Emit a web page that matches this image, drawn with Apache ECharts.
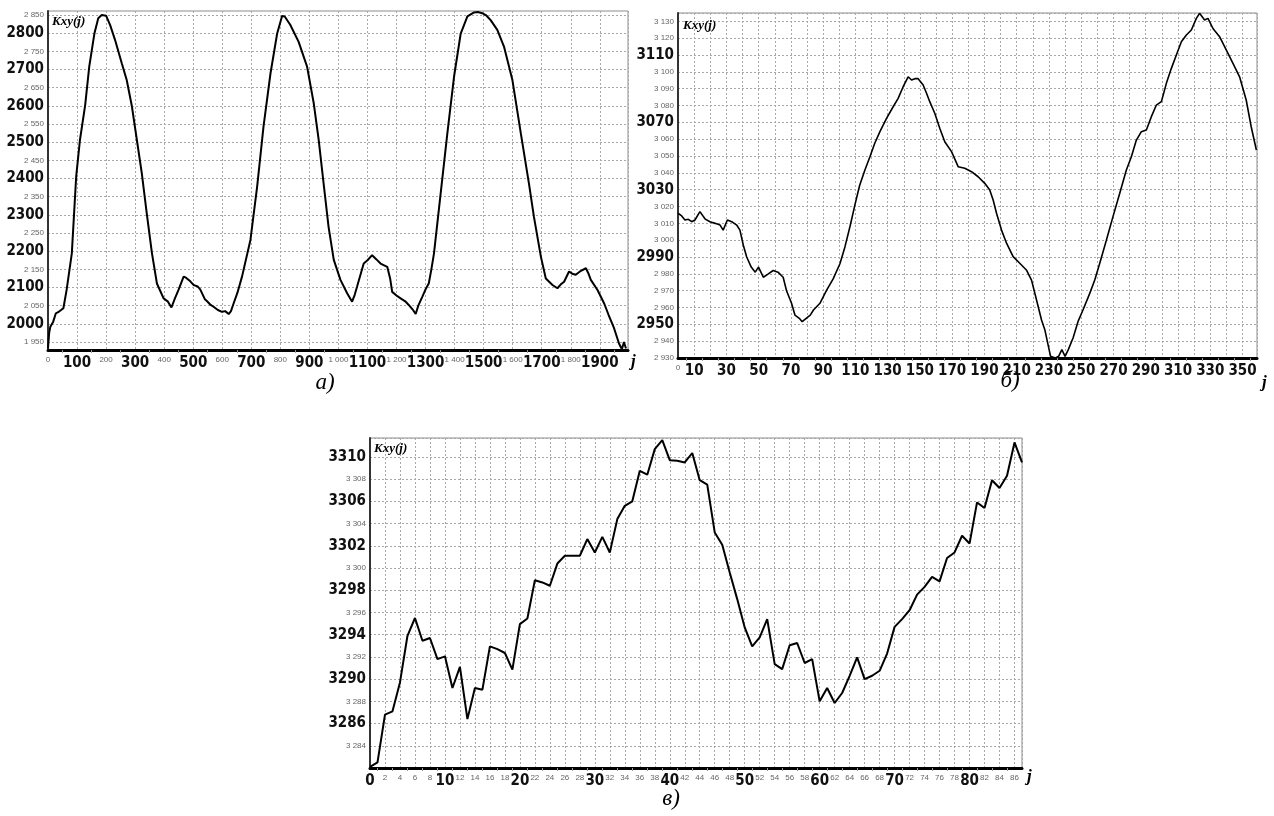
<!DOCTYPE html>
<html>
<head>
<meta charset="utf-8" />
<title>Kxy(j)</title>
<script type="text/javascript" src="https://cdn.jsdelivr.net/npm/echarts@6/dist/echarts.min.js"></script>
<style>
  html, body { margin: 0; padding: 0; background: #fff; }
  #chart { width: 1274px; height: 816px; }
</style>
</head>
<body>
<div id="chart"></div>
<script type="text/javascript">
// panel a) : j, Kxy(j)
var aJ = [0, 4, 8, 18, 27, 35, 45, 53, 64, 82, 97, 110, 128, 142, 160, 173, 185, 191, 200, 214, 231, 254, 271, 289, 306, 323, 340, 358, 375, 398, 412, 425, 437, 449, 467, 475, 490, 501, 515, 524, 540, 547, 560, 570, 585, 599, 610, 622, 630, 639, 652, 668, 697, 720, 742, 766, 789, 806, 815, 834, 863, 892, 915, 932, 949, 966, 984, 1007, 1030, 1047, 1056, 1064, 1087, 1100, 1116, 1130, 1145, 1168, 1178, 1185, 1200, 1214, 1230, 1242, 1255, 1266, 1275, 1289, 1300, 1311, 1320, 1329, 1352, 1375, 1398, 1421, 1444, 1467, 1480, 1495, 1510, 1524, 1547, 1570, 1599, 1628, 1656, 1673, 1697, 1714, 1737, 1754, 1765, 1777, 1794, 1805, 1817, 1835, 1852, 1860, 1869, 1892, 1915, 1930, 1949, 1966, 1976, 1983, 1990];
var aK = [1932, 1975, 1992, 2006, 2029, 2032, 2038, 2043, 2093, 2194, 2405, 2506, 2602, 2708, 2800, 2841, 2850, 2852, 2848, 2822, 2781, 2717, 2671, 2598, 2506, 2414, 2304, 2194, 2111, 2070, 2062, 2045, 2070, 2093, 2130, 2127, 2117, 2107, 2103, 2095, 2068, 2063, 2052, 2047, 2038, 2033, 2035, 2027, 2035, 2056, 2085, 2130, 2231, 2377, 2543, 2689, 2799, 2847, 2846, 2823, 2776, 2708, 2607, 2506, 2386, 2267, 2176, 2121, 2084, 2061, 2080, 2102, 2166, 2175, 2189, 2178, 2166, 2157, 2125, 2088, 2078, 2070, 2062, 2052, 2040, 2027, 2050, 2075, 2095, 2111, 2150, 2194, 2359, 2524, 2680, 2799, 2846, 2857, 2858, 2855, 2848, 2836, 2809, 2763, 2671, 2524, 2386, 2295, 2185, 2125, 2107, 2098, 2108, 2116, 2144, 2138, 2135, 2146, 2153, 2140, 2121, 2093, 2056, 2025, 1988, 1946, 1930, 1950, 1932];

// panel б) : j, Kxy(j)
var bJ = [0, 2.3, 4.3, 6.4, 8.5, 10.5, 13.6, 16.7, 19.8, 23, 26.1, 28, 30.6, 33.3, 36.4, 38.4, 40.5, 42.6, 45.4, 47.9, 49.9, 52.9, 56, 59, 62, 65.2, 67.3, 70.4, 72.5, 75.2, 77, 79.5, 82, 84, 88, 92, 96.2, 100.4, 103.5, 106.6, 109.7, 112.6, 115.9, 119, 122, 125.2, 129.3, 133.4, 136.5, 139.6, 142.7, 144.8, 146.9, 148.9, 152, 154.1, 156.1, 159.2, 162.3, 165.4, 169.6, 173.7, 177.8, 182, 186.1, 190.2, 193.3, 195.4, 197.5, 200.6, 203.7, 207.8, 211.9, 216, 219.2, 222.3, 225.4, 227.5, 231, 234, 236, 238, 240, 242, 245, 248, 251.1, 255.3, 258.4, 261.5, 265.6, 269.7, 273.9, 278, 281.1, 284.2, 287.3, 290.4, 293.5, 296.6, 299.7, 302.8, 305.9, 309, 312.1, 315.2, 318.3, 321.4, 323.4, 326.5, 328.6, 331.7, 335.8, 340, 344.1, 348.2, 352.3, 355.4, 358.6];
var bK = [3016, 3014.4, 3012, 3012.4, 3011, 3012, 3017, 3012.7, 3011, 3010, 3009, 3006, 3012, 3011, 3009, 3006, 2997, 2990, 2984, 2981, 2984, 2978, 2980, 2982, 2981, 2978, 2970, 2962.5, 2955.5, 2953.6, 2951.6, 2953.6, 2955.5, 2958.5, 2962.5, 2970, 2977, 2986, 2996, 3008, 3021, 3032.5, 3041.7, 3049.6, 3057.6, 3064.5, 3072.4, 3079.3, 3084.3, 3091.2, 3097.1, 3095.2, 3096, 3096, 3092.2, 3087.3, 3082.3, 3075.4, 3066.5, 3058.5, 3052.6, 3043.7, 3042.7, 3040.7, 3037.7, 3033.8, 3029.8, 3023.9, 3016, 3006, 2998.2, 2990.2, 2986.3, 2982.3, 2976.3, 2964.5, 2952.6, 2946.6, 2931, 2930, 2931, 2935, 2931, 2935, 2942, 2951.6, 2958.5, 2968.4, 2976.3, 2986.3, 3000, 3014, 3027.9, 3041.7, 3049.6, 3059.5, 3064.5, 3065.5, 3073.4, 3080.3, 3082.3, 3093.2, 3102.1, 3110, 3117.9, 3121.9, 3124.9, 3131.8, 3134.8, 3130.8, 3131.8, 3125.8, 3120.9, 3113, 3105.1, 3097.1, 3083.3, 3067.4, 3053.6];

// panel в) : Kxy(j) for j = 0..87
var cK = [3282.1, 3282.5, 3286.8, 3287.1, 3289.7, 3293.9, 3295.5, 3293.45, 3293.7, 3291.8,
          3292.05, 3289.2, 3291.1, 3286.4, 3289.2, 3289.05, 3292.95, 3292.7, 3292.35, 3290.85,
          3294.95, 3295.45, 3298.9, 3298.7, 3298.4, 3300.4, 3301.1, 3301.1, 3301.1, 3302.6,
          3301.4, 3302.8, 3301.4, 3304.4, 3305.6, 3306.0, 3308.75, 3308.4, 3310.7, 3311.5,
          3309.7, 3309.65, 3309.5, 3310.35, 3307.9, 3307.5, 3303.2, 3302.1, 3299.6, 3297.2,
          3294.65, 3292.95, 3293.75, 3295.4, 3291.35, 3290.9, 3293.05, 3293.25, 3291.45, 3291.8,
          3288.0, 3289.2, 3287.85, 3288.75, 3290.3, 3291.95, 3290.0, 3290.3, 3290.75, 3292.3,
          3294.7, 3295.4, 3296.2, 3297.6, 3298.3, 3299.2, 3298.8, 3300.9, 3301.4, 3302.9,
          3302.2, 3305.9, 3305.4, 3307.9, 3307.2, 3308.3, 3311.3, 3309.5];

var aYTicks = [1950, 2000, 2050, 2100, 2150, 2200, 2250, 2300, 2350, 2400, 2450, 2500, 2550, 2600, 2650, 2700, 2750, 2800, 2850];

function pair(xs, ys) {
    var out = [];
    for (var i = 0; i < xs.length; i++) out.push([xs[i], ys[i]]);
    return out;
}
function spaced(v) {
    // small labels are printed as "2 850"
    if (v >= 1000) return Math.floor(v / 1000) + ' ' + String(v % 1000).padStart(3, '0');
    return String(v);
}

var bigFont = 'Liberation Sans Narrow, DejaVu Sans Condensed, Arial Narrow, sans-serif';
var rich = {
    b: { fontFamily: bigFont, fontWeight: 'bold', fontSize: 15, color: '#111' },
    s: { fontFamily: 'Liberation Sans, Arial, sans-serif', fontSize: 8, color: '#666' }
};
var gridLine = { show: true, lineStyle: { color: '#a8a8a8', width: 1, type: [2, 2] } };

function xAxisBase(idx, extra) {
    var o = {
        type: 'value', gridIndex: idx,
        axisLine: { show: true, onZero: false, lineStyle: { color: '#000', width: 3 } },
        axisTick: { show: false },
        minorTick: { show: true, splitNumber: 2, length: 3, lineStyle: { color: '#999' } },
        splitLine: gridLine,
        axisLabel: { margin: 6, showMinLabel: true, showMaxLabel: true, rich: rich }
    };
    for (var k in extra) o[k] = extra[k];
    return o;
}
function yAxisBase(idx, extra) {
    var o = {
        type: 'value', gridIndex: idx,
        axisLine: { show: true, onZero: false, lineStyle: { color: '#333', width: 2 } },
        axisTick: { show: false },
        splitLine: gridLine,
        axisLabel: { margin: 4, showMinLabel: true, showMaxLabel: true, rich: rich }
    };
    for (var k in extra) o[k] = extra[k];
    return o;
}

var myChart = echarts.init(document.getElementById('chart'), null, { renderer: 'canvas' });

var gridCommon = { show: true, borderColor: '#8c8c8c', borderWidth: 1, backgroundColor: '#fff', containLabel: false, outerBoundsMode: 'none' };
function gridAt(l, t, w, h) {
    var g = { left: l, top: t, width: w, height: h };
    for (var k in gridCommon) g[k] = gridCommon[k];
    return g;
}

var labelText = function (x, y, text, style) {
    var s = { text: text, x: x, y: y, fill: '#000', textAlign: 'left', textVerticalAlign: 'middle' };
    for (var k in style) s[k] = style[k];
    return { type: 'text', z: 100, style: s };
};
var kxyStyle = { font: 'italic bold 13px "Liberation Serif", "Times New Roman", serif' };
var jStyle = { font: 'italic bold 17px "Liberation Serif", "Times New Roman", serif' };
var capStyle = { font: 'italic 23px "Liberation Serif", "Times New Roman", serif', textAlign: 'center' };

myChart.setOption({
    animation: false,
    backgroundColor: '#fff',
    grid: [
        gridAt(48, 11, 580, 339),
        gridAt(678, 13, 579, 345),
        gridAt(370, 438, 652, 330)
    ],
    xAxis: [
        xAxisBase(0, {
            min: 0, max: 1997, interval: 100,
            axisLabel: { margin: 6, rich: rich, formatter: function (v) {
                if (v % 200 === 100) return '{b|' + v + '}';
                if (v % 200 === 0) return '{s|' + spaced(v) + '}';
                return '';
            } }
        }),
        xAxisBase(1, {
            min: 0, max: 359, interval: 10,
            axisLabel: { margin: 6, rich: rich, formatter: function (v) {
                if (v === 0) return '{s|0}';
                if (v % 20 === 10) return '{b|' + v + '}';
                return '';
            } }
        }),
        xAxisBase(2, {
            min: 0, max: 87, interval: 2,
            axisLabel: { margin: 6, rich: rich, formatter: function (v) {
                if (v % 10 === 0) return '{b|' + v + '}';
                if (v % 2 === 0) return '{s|' + v + '}';
                return '';
            } }
        })
    ],
    yAxis: [
        yAxisBase(0, {
            min: 1928, max: 2861,
            axisTick: { show: false, customValues: aYTicks },
            axisLabel: { margin: 4, rich: rich, customValues: aYTicks, formatter: function (v) {
                if (v % 100 === 0) return '{b|' + v + '}';
                return '{s|' + spaced(v) + '}';
            } }
        }),
        yAxisBase(1, {
            min: 2930, max: 3135, interval: 10,
            axisLabel: { margin: 4, rich: rich, formatter: function (v) {
                if (v % 10 !== 0) return '';
                if ((v - 2950) % 40 === 0) return '{b|' + v + '}';
                return '{s|' + spaced(v) + '}';
            } }
        }),
        yAxisBase(2, {
            min: 3282, max: 3311.7, interval: 2,
            axisLabel: { margin: 4, rich: rich, formatter: function (v) {
                if (v === 3282 || v % 2 !== 0) return '';
                if ((v - 3282) % 4 === 0) return '{b|' + v + '}';
                return '{s|' + spaced(v) + '}';
            } }
        })
    ],
    series: [
        { type: 'line', xAxisIndex: 0, yAxisIndex: 0, data: pair(aJ, aK), showSymbol: false, clip: true,
          lineStyle: { color: '#000', width: 2 } },
        { type: 'line', xAxisIndex: 1, yAxisIndex: 1, data: pair(bJ, bK), showSymbol: false, clip: true,
          lineStyle: { color: '#000', width: 1.6 } },
        { type: 'line', xAxisIndex: 2, yAxisIndex: 2, data: cK.map(function (v, j) { return [j, v]; }), showSymbol: false, clip: true,
          lineStyle: { color: '#000', width: 2 } }
    ],
    graphic: [
        labelText(52, 22, 'Kxy(j)', kxyStyle),
        labelText(683, 26, 'Kxy(j)', kxyStyle),
        labelText(374, 449, 'Kxy(j)', kxyStyle),
        labelText(631, 362, 'j', jStyle),
        labelText(1262, 383, 'j', jStyle),
        labelText(1027, 777, 'j', jStyle),
        labelText(325, 383, 'а)', capStyle),
        labelText(1010, 381, 'б)', capStyle),
        labelText(671, 799, 'в)', capStyle)
    ]
});
</script>
</body>
</html>
